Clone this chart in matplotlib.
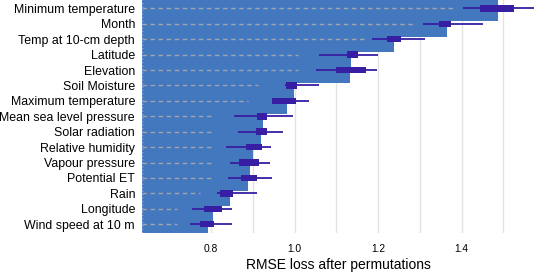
import matplotlib
matplotlib.use("Agg")
import matplotlib.pyplot as plt
import numpy as np

plt.rcParams['font.family'] = ['Liberation Sans', 'DejaVu Sans']

variables = ["Minimum temperature", "Month", "Temp at 10-cm depth", "Latitude",
             "Elevation", "Soil Moisture", "Maximum temperature",
             "Mean sea level pressure", "Solar radiation", "Relative humidity",
             "Vapour pressure", "Potential ET", "Rain", "Longitude",
             "Wind speed at 10 m"]
baseline = 0.635
mean_loss = [1.487, 1.365, 1.238, 1.135, 1.133, 0.999, 0.981, 0.925, 0.919,
             0.900, 0.893, 0.889, 0.845, 0.806, 0.794]
whisk_lo = [1.404, 1.308, 1.186, 1.058, 1.051, 0.978, 0.945, 0.856, 0.864,
            0.836, 0.845, 0.841, 0.815, 0.755, 0.750]
q1 = [1.444, 1.346, 1.221, 1.125, 1.099, 0.980, 0.947, 0.909, 0.907,
      0.883, 0.867, 0.873, 0.822, 0.783, 0.774]
q3 = [1.524, 1.374, 1.254, 1.153, 1.171, 1.005, 1.003, 0.933, 0.935,
      0.921, 0.915, 0.909, 0.853, 0.827, 0.807]
whisk_hi = [1.573, 1.452, 1.312, 1.200, 1.197, 1.058, 1.035, 0.996, 0.972,
            0.943, 0.941, 0.946, 0.911, 0.850, 0.850]
dash_end = [1.379, 1.283, 1.169, 1.008, 1.008, 0.912, 0.889, 0.802, 0.802,
            0.802, 0.802, 0.802, 0.774, 0.719, 0.719]
xticks = [0.8, 1.0, 1.2, 1.4]
xgrid = [0.8, 0.9, 1.0, 1.1, 1.2, 1.3, 1.4, 1.5]

bar_color = "#4378bf"
box_color = "#371ea3"

fig = plt.figure(figsize=(5.34, 2.74), dpi=100)
ax = fig.add_axes([142 / 534, 1 - 233 / 274, 392 / 534, 233 / 274])

n = len(variables)
ypos = np.arange(n)[::-1]

for g in xgrid:
    ax.axvline(g, color="#e3e3e3", lw=1.0, zorder=0)

ax.barh(ypos, np.array(mean_loss) - baseline, left=baseline, height=1.66,
        color=bar_color, zorder=1)
ax.axvline(baseline, color="#8fb0e0", lw=1.0, ls=(0, (1, 1.5)), zorder=2)

for y, de in zip(ypos, dash_end):
    ax.plot([baseline, de], [y, y], color="#a0a4ac", lw=1.0,
            ls=(0, (3.2, 2.6)), zorder=2)

for y, lo, a, b, hi in zip(ypos, whisk_lo, q1, q3, whisk_hi):
    ax.plot([lo, hi], [y, y], color=box_color, lw=1.3, zorder=3,
            solid_capstyle='butt')
    ax.barh(y, b - a, left=a, height=0.42, color=box_color, zorder=4)

ax.set_xlim(0.635, 1.573)
ax.set_ylim(-0.57, n - 1 + 0.54)
ax.set_yticks(ypos)
ax.set_yticklabels(variables, fontsize=8.9, color="black")
ax.set_xticks(xticks)
ax.set_xticklabels([f"{t:.1f}" for t in xticks], fontsize=7.4, color="black")
ax.tick_params(axis='x', length=0, pad=8)
ax.tick_params(axis='y', length=0, pad=5)
for s in ax.spines.values():
    s.set_visible(False)
ax.set_xlabel("RMSE loss after permutations", fontsize=10, labelpad=3)

fig.savefig("out.png", dpi=100)
